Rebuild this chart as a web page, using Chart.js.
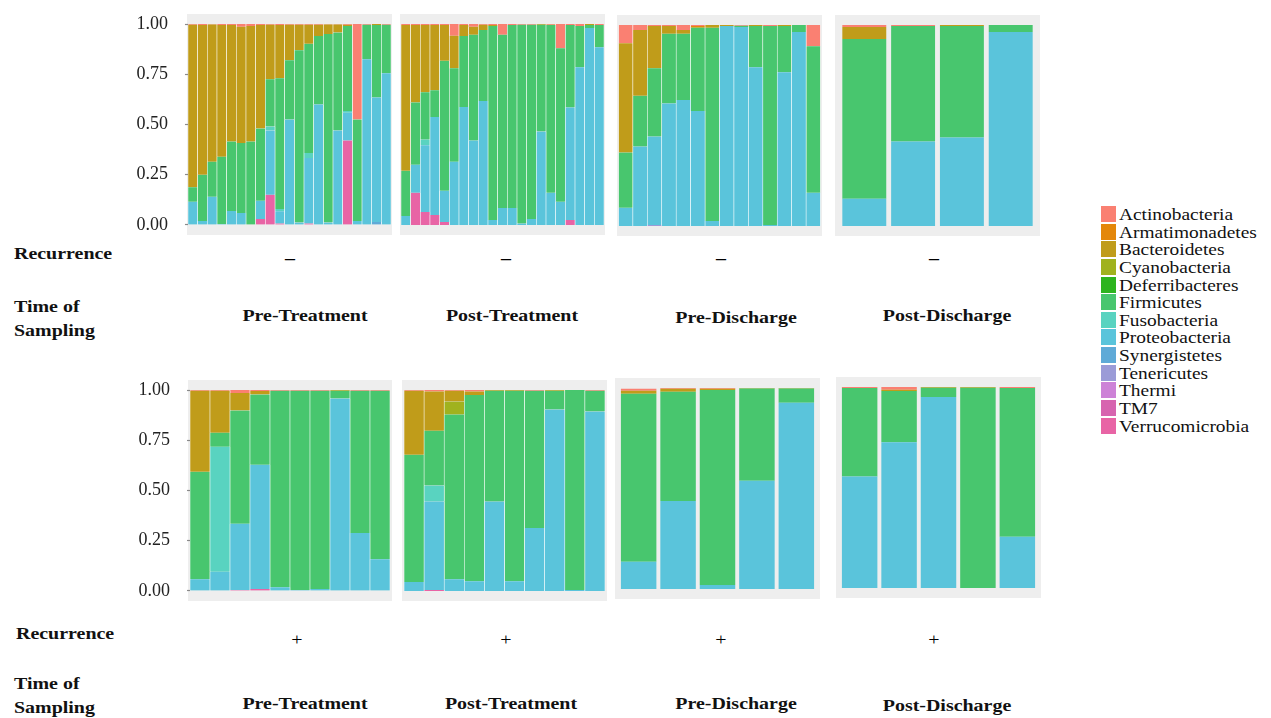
<!DOCTYPE html>
<html>
<head>
<meta charset="utf-8">
<script src="https://cdn.jsdelivr.net/npm/chart.js@4.4.1/dist/chart.umd.min.js"></script>
<style>
  html, body { margin: 0; padding: 0; background: #ffffff; }
  body { width: 1271px; height: 718px; position: relative; overflow: hidden;
         font-family: "Liberation Serif", "Times New Roman", serif; color: #111; }
  .panel-bg { position: absolute; background: #EEEEEE; }
  canvas { position: absolute; }
  .lbl { position: absolute; white-space: nowrap; line-height: 1; }
  .bold { font-weight: bold; font-size: 17.5px; }
  .left { transform-origin: left center; transform: translateY(-50%) scaleX(1.14); }
  .mid { transform: translate(-50%, -50%) scaleX(1.14); }
  .swatch { position: absolute; width: 15px; height: 16px; }
  .legtext { font-size: 17px; }
</style>
</head>
<body>
<script>
// Phyla in legend order (first level sits at the top of each stack)
const phyla = ['Actinobacteria', 'Armatimonadetes', 'Bacteroidetes', 'Cyanobacteria',
  'Deferribacteres', 'Firmicutes', 'Fusobacteria', 'Proteobacteria', 'Synergistetes',
  'Tenericutes', 'Thermi', 'TM7', 'Verrucomicrobia'];
const phylumColors = ['#FA8072', '#E4870A', '#C09C1A', '#A0B21E', '#2DB41E', '#48C66E',
  '#59D3C0', '#5AC4DB', '#5FAAD7', '#9B9BD7', '#CD82D7', '#D764AF', '#E864A5'];

const yTicks = [0, 0.25, 0.5, 0.75, 1];
const timepoints = ['Pre-Treatment', 'Post-Treatment', 'Pre-Discharge', 'Post-Discharge'];
const recurrenceGroups = ['–', '+'];

// Relative abundance per sample, no recurrence
const negPreTreatment = {
  Verrucomicrobia: [0, 0, 0, 0, 0, 0, 0, 0.03, 0.15, 0.007, 0, 0, 0.007, 0, 0, 0, 0.42, 0, 0, 0, 0],
  Synergistetes:   [0, 0, 0, 0, 0, 0, 0, 0, 0, 0, 0, 0, 0, 0, 0, 0, 0, 0, 0, 0.015, 0],
  Proteobacteria:  [0.115, 0.02, 0.14, 0.005, 0.07, 0.06, 0, 0.09, 0.32, 0.061, 0.525, 0.012, 0.326, 0.6, 0.012, 0.47, 0.138, 0.02, 0.825, 0.62, 0.755],
  Fusobacteria:    [0, 0, 0, 0, 0, 0, 0, 0, 0.02, 0.012, 0, 0, 0.025, 0, 0, 0, 0.009, 0, 0, 0, 0],
  Firmicutes:      [0.073, 0.23, 0.175, 0.335, 0.345, 0.348, 0.415, 0.36, 0.235, 0.65, 0.295, 0.858, 0.544, 0.34, 0.938, 0.488, 0.423, 0.505, 0.172, 0.36, 0.242],
  Bacteroidetes:   [0.809, 0.745, 0.683, 0.655, 0.58, 0.579, 0.575, 0.515, 0.272, 0.265, 0.177, 0.127, 0.095, 0.057, 0.048, 0.04, 0.007, 0, 0, 0.005, 0],
  Actinobacteria:  [0.003, 0.005, 0.002, 0.005, 0.005, 0.013, 0.01, 0.005, 0.003, 0.005, 0.003, 0.003, 0.003, 0.003, 0.002, 0.002, 0.003, 0.475, 0.003, 0, 0.003]
};
const negPostTreatment = {
  Verrucomicrobia: [0, 0.16, 0.065, 0.05, 0.015, 0, 0, 0, 0, 0, 0, 0, 0, 0, 0, 0, 0, 0.025, 0, 0, 0],
  Proteobacteria:  [0.045, 0.14, 0.332, 0.487, 0.155, 0.315, 0.587, 0.42, 0.617, 0.025, 0.085, 0.085, 0.007, 0.03, 0.465, 0.16, 0.115, 0.56, 0.785, 0.98, 0.885],
  Fusobacteria:    [0, 0, 0.028, 0, 0, 0, 0, 0, 0, 0, 0, 0, 0, 0, 0, 0, 0, 0, 0, 0, 0],
  Firmicutes:      [0.225, 0.31, 0.235, 0.133, 0.647, 0.465, 0.353, 0.527, 0.353, 0.965, 0.862, 0.91, 0.99, 0.967, 0.532, 0.835, 0.765, 0.41, 0.205, 0.015, 0.11],
  Bacteroidetes:   [0.725, 0.385, 0.335, 0.325, 0.178, 0.162, 0.055, 0.04, 0.027, 0.005, 0, 0, 0, 0, 0.003, 0.002, 0, 0, 0, 0.005, 0],
  Actinobacteria:  [0.005, 0.005, 0.005, 0.005, 0.005, 0.058, 0.005, 0.013, 0.003, 0.005, 0.053, 0.005, 0.003, 0.003, 0, 0.003, 0.12, 0.005, 0.01, 0, 0.005]
};
const negPreDischarge = {
  Tenericutes:     [0, 0, 0.005, 0, 0, 0, 0, 0, 0, 0, 0, 0, 0, 0],
  Proteobacteria:  [0.09, 0.395, 0.44, 0.61, 0.627, 0.572, 0.025, 0.995, 0.99, 0.79, 0.005, 0.765, 0.965, 0.165],
  Firmicutes:      [0.275, 0.253, 0.34, 0.347, 0.33, 0.415, 0.962, 0, 0.007, 0.205, 0.99, 0.23, 0.035, 0.73],
  Bacteroidetes:   [0.545, 0.327, 0.21, 0.038, 0.018, 0.003, 0.013, 0.005, 0, 0.005, 0, 0.005, 0, 0],
  Armatimonadetes: [0, 0, 0, 0, 0, 0.005, 0, 0, 0, 0, 0, 0, 0, 0],
  Actinobacteria:  [0.09, 0.025, 0.005, 0.005, 0.025, 0.005, 0, 0, 0.003, 0, 0.005, 0, 0, 0.105]
};
const negPostDischarge = {
  Proteobacteria:  [0.135, 0.42, 0.44, 0.965],
  Firmicutes:      [0.795, 0.575, 0.555, 0.035],
  Bacteroidetes:   [0.06, 0, 0.005, 0],
  Actinobacteria:  [0.01, 0.005, 0, 0]
};

// Relative abundance per sample, recurrence
const posPreTreatment = {
  Verrucomicrobia: [0, 0, 0.005, 0.01, 0, 0, 0, 0, 0, 0],
  Proteobacteria:  [0.058, 0.095, 0.33, 0.618, 0.018, 0.005, 0.01, 0.958, 0.288, 0.158],
  Fusobacteria:    [0, 0.623, 0, 0, 0, 0, 0, 0, 0, 0],
  Firmicutes:      [0.535, 0.07, 0.563, 0.35, 0.979, 0.992, 0.987, 0.039, 0.709, 0.839],
  Bacteroidetes:   [0.404, 0.209, 0.087, 0.017, 0, 0, 0, 0.003, 0, 0],
  Actinobacteria:  [0.003, 0.003, 0.015, 0.005, 0.003, 0.003, 0.003, 0, 0.003, 0.003]
};
const posPostTreatment = {
  Verrucomicrobia: [0, 0.005, 0, 0, 0, 0, 0, 0, 0, 0],
  Proteobacteria:  [0.045, 0.44, 0.058, 0.048, 0.445, 0.048, 0.313, 0.903, 0.005, 0.893],
  Fusobacteria:    [0, 0.08, 0, 0, 0, 0, 0, 0, 0, 0],
  Firmicutes:      [0.633, 0.273, 0.82, 0.927, 0.552, 0.949, 0.684, 0.094, 0.995, 0.104],
  Cyanobacteria:   [0, 0, 0.065, 0, 0, 0, 0, 0, 0, 0],
  Bacteroidetes:   [0.319, 0.195, 0.054, 0.018, 0.003, 0.003, 0, 0.003, 0, 0],
  Actinobacteria:  [0.003, 0.007, 0.003, 0.007, 0, 0, 0.003, 0, 0, 0.003]
};
const posPreDischarge = {
  Proteobacteria:  [0.135, 0.438, 0.02, 0.538, 0.927],
  Firmicutes:      [0.837, 0.544, 0.97, 0.46, 0.071],
  Bacteroidetes:   [0.015, 0.015, 0.007, 0.002, 0.002],
  Actinobacteria:  [0.01, 0.003, 0.003, 0, 0]
};
const posPostDischarge = {
  Proteobacteria:  [0.555, 0.725, 0.95, 0, 0.255],
  Firmicutes:      [0.44, 0.255, 0.047, 0.997, 0.74],
  Bacteroidetes:   [0, 0.007, 0.003, 0.003, 0],
  Actinobacteria:  [0.005, 0.013, 0, 0, 0.005]
};

// Panel placement: [left, top, width, height] of each grey facet
const panels = [
  { data: negPreTreatment,  rect: [187, 14, 205, 221], axis: true },
  { data: negPostTreatment, rect: [400, 14, 205, 221], axis: false },
  { data: negPreDischarge,  rect: [617, 15, 205, 221], axis: false },
  { data: negPostDischarge, rect: [835, 15, 205, 221], axis: false },
  { data: posPreTreatment,  rect: [188, 380, 204, 221], axis: true },
  { data: posPostTreatment, rect: [402, 380, 205, 221], axis: false },
  { data: posPreDischarge,  rect: [615, 378, 205, 221], axis: false },
  { data: posPostDischarge, rect: [836, 377, 205, 221], axis: false }
];

const serif = '"Liberation Serif", "Times New Roman", serif';
const AXIS_W = 67;

function buildPanel(p) {
  const [x, y, w, h] = p.rect;
  const n = Math.max(...Object.values(p.data).map(a => a.length));
  const samples = Array.from({ length: n }, (_, i) => 'S' + (i + 1));
  const pad = 0.1 * w / (n + 0.2);
  const narrow = n >= 10;

  const bg = document.createElement('div');
  bg.className = 'panel-bg';
  Object.assign(bg.style, { left: x + 'px', top: y + 'px', width: w + 'px', height: h + 'px' });
  document.body.appendChild(bg);

  const canvas = document.createElement('canvas');
  const cLeft = p.axis ? x - AXIS_W : x;
  const cWidth = p.axis ? w + AXIS_W : w;
  canvas.width = cWidth;
  canvas.height = h;
  Object.assign(canvas.style, { left: cLeft + 'px', top: y + 'px', width: cWidth + 'px', height: h + 'px' });
  document.body.appendChild(canvas);

  // stack from the last phylum at the bottom to the first at the top
  const datasets = phyla.map((name, i) => ({
    label: name,
    data: samples.map((_, j) => (p.data[name] ? p.data[name][j] : 0) || 0),
    backgroundColor: phylumColors[i],
    borderColor: '#ffffff',
    borderWidth: narrow ? { left: 0.6, right: 0.6, top: 0, bottom: 0 } : 0,
    borderSkipped: false,
    barPercentage: narrow ? 1 : 0.9,
    categoryPercentage: 1
  })).reverse();

  new Chart(canvas, {
    type: 'bar',
    data: { labels: samples, datasets },
    options: {
      responsive: false,
      animation: false,
      devicePixelRatio: 1,
      layout: { padding: { left: p.axis ? 0 : pad, right: pad, top: 0, bottom: 0 } },
      plugins: { legend: { display: false }, tooltip: { enabled: false } },
      scales: {
        x: { stacked: true, display: false, offset: true },
        y: {
          stacked: true, min: -0.05, max: 1.05, display: p.axis,
          afterBuildTicks: s => { s.ticks = yTicks.map(v => ({ value: v })); },
          afterFit: s => {
            if (!p.axis) return;
            s.width = AXIS_W + pad; s.paddingTop = 0; s.paddingBottom = 0;
          },
          ticks: { callback: v => Number(v).toFixed(2), font: { family: serif, size: 18 }, color: '#222', padding: 17 },
          grid: { drawOnChartArea: false, tickLength: 3, tickColor: '#8a8a8a', tickWidth: 1.2 },
          border: { display: false }
        }
      }
    }
  });
}

panels.forEach(buildPanel);

// Facet annotations
function addLabel(text, cls, x, y) {
  const d = document.createElement('div');
  d.className = 'lbl ' + cls;
  d.innerHTML = text;
  d.style.left = x + 'px';
  d.style.top = y + 'px';
  document.body.appendChild(d);
  return d;
}

const rowText = [
  { rec: [14, 254], time: [14, 318], sign: recurrenceGroups[0], signY: 259, signBold: true,
    signX: [290, 506, 721, 934], titleX: [305, 512, 736, 947], titleY: [316, 316, 318, 316] },
  { rec: [16, 634], time: [14, 695], sign: recurrenceGroups[1], signY: 640, signBold: false,
    signX: [297, 506, 721, 934], titleX: [305, 511, 736, 947], titleY: [704, 704, 704, 706] }
];
rowText.forEach(r => {
  addLabel('Recurrence', 'bold left', r.rec[0], r.rec[1]);
  const t = addLabel('Time of<br>Sampling', 'bold left', r.time[0], r.time[1]);
  t.style.lineHeight = '24px';
  r.signX.forEach(sx => {
    const s = addLabel(r.sign, 'mid', sx, r.signY);
    s.style.fontSize = '17.5px';
    s.style.color = '#000';
    if (r.signBold) s.style.fontWeight = 'bold';
  });
  timepoints.forEach((name, i) => addLabel(name, 'bold mid', r.titleX[i], r.titleY[i]));
});

// Legend
phyla.forEach((name, i) => {
  const top = 206 + i * 17.64;
  const sw = document.createElement('div');
  sw.className = 'swatch';
  Object.assign(sw.style, { left: '1101px', top: top + 'px', background: phylumColors[i] });
  document.body.appendChild(sw);
  addLabel(name, 'legtext left', 1119, top + 8);
});
</script>
</body>
</html>
